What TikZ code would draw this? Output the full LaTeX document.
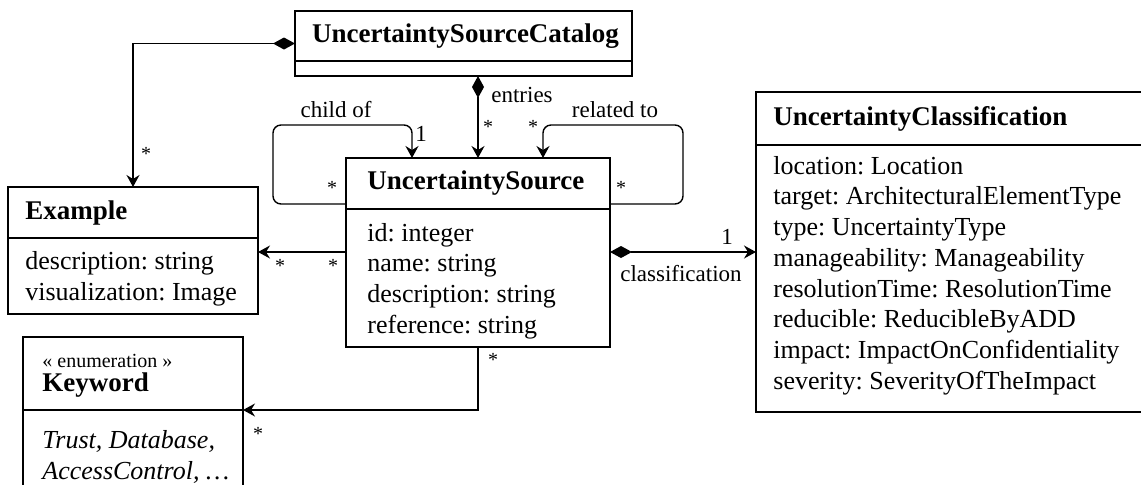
\documentclass[tikz,border=0pt]{standalone}
\usepackage{fontspec}
\setmainfont{Liberation Serif}
\usetikzlibrary{arrows.meta,calc}
\newcommand{\bodyfont}{\fontsize{13}{15.35}\selectfont\frenchspacing}
\newcommand{\titlefont}{\fontsize{13.5}{15.35}\selectfont\bfseries}
\begin{document}
\begin{tikzpicture}[x=0.5pt,y=-0.5pt,
	clsbox/.style={draw, line width=0.7pt, anchor=north west, inner sep=0pt, outer sep=0pt},
	txt/.style={anchor=west, inner sep=0pt, align=left, font=\bodyfont},
	ttl/.style={anchor=west, inner sep=0pt, font=\titlefont},
	assoc/.style={line width=0.7pt, -{Stealth[length=6pt,width=6.5pt,inset=2pt]}},
	comp/.style={line width=0.7pt, {Diamond[length=11pt,width=6pt]}-{Stealth[length=6pt,width=6.5pt,inset=2pt]}},
	lbl/.style={font=\fontsize{11.5}{13}\selectfont, inner sep=0pt},
	mult/.style={font=\fontsize{10}{12}\selectfont, inner sep=0pt}]
	\useasboundingbox (0,0) rectangle (1141,484);

	% classes
	\node[clsbox, minimum width=168.5pt, minimum height=25pt] (catHead) at (295,11) {};
	\node[clsbox, minimum width=168.5pt, minimum height=7.5pt] (catBody) at (catHead.south west) {};
	\node[ttl, anchor=center] (catTitle) at ($(catHead.center)+(2,0)$) {UncertaintySourceCatalog};

	\node[clsbox, minimum width=125pt, minimum height=25.5pt] (exHead) at (8,187) {};
	\node[clsbox, minimum width=125pt, minimum height=38pt] (exBody) at (exHead.south west) {};
	\node[ttl] (exTitle) at ($(exHead.west)+(17,0)$) {Example};
	\node[txt] (exAttr) at ($(exBody.west)+(17,3)$) {description: string\\visualization: Image};

	\node[clsbox, minimum width=132pt, minimum height=25.5pt] (usHead) at (346,158) {};
	\node[clsbox, minimum width=132pt, minimum height=69pt] (usBody) at (usHead.south west) {};
	\node[ttl] (usTitle) at ($(usHead.west)+(21,0)$) {UncertaintySource};
	\node[txt] (usAttr) at ($(usBody.west)+(21,3)$) {id: integer\\name: string\\description: string\\reference: string};

	\node[clsbox, minimum width=200pt, minimum height=26.5pt] (ucHead) at (756,92) {};
	\node[clsbox, minimum width=200pt, minimum height=133.5pt] (ucBody) at (ucHead.south west) {};
	\node[ttl] (ucTitle) at ($(ucHead.west)+(17,0)$) {UncertaintyClassification};
	\node[txt] (ucAttr) at ($(ucBody.west)+(17,-3)$) {location: Location\\target: ArchitecturalElementType\\type: UncertaintyType\\manageability: Manageability\\resolutionTime: ResolutionTime\\reducible: ReducibleByADD\\impact: ImpactOnConfidentiality\\severity: SeverityOfTheImpact};

	\node[clsbox, minimum width=110pt, minimum height=36.5pt] (kwHead) at (23,337) {};
	\node[clsbox, minimum width=110pt, minimum height=45pt] (kwBody) at (kwHead.south west) {};
	\node[anchor=west, inner sep=0pt, font=\fontsize{10}{12}\selectfont] (kwStereo) at ($(kwHead.west)+(19,-13)$) {« enumeration »};
	\node[ttl] (kwTitle) at ($(kwHead.west)+(19,12)$) {Keyword};
	\node[txt, font=\bodyfont\itshape] (kwAttr) at ($(kwBody.north west)+(19,47)$) {Trust, Database,\\AccessControl, …};

	% connectors
	\draw[comp] ($(catHead.north west)!0.5!(catBody.south west)$) -| (exHead.north);
	\draw[comp] (catBody.south -| usHead.north) -- (usHead.north);
	\draw[assoc, rounded corners=4pt] ($(usHead.south west)+(0,-5)$) -| ++(-73,-79) -| ($(usHead.north west)+(66,0)$);
	\draw[assoc, rounded corners=4pt] ($(usHead.south east)+(0,-5)$) -| ++(73,-79) -| ($(usHead.north east)+(-67,0)$);
	\draw[assoc] ($(usBody.north west)+(0,43)$) coordinate (exArr) -- (exArr -| exBody.east);
	\draw[comp] ($(usBody.north east)+(0,43)$) coordinate (ucArr) -- (ucArr -| ucBody.west);
	\draw[assoc] (usBody.south) |- (kwBody.north east);

	% labels
	\node[mult] (mEx) at (146,154) {*};
	\node[lbl] (lEntries) at (522,95) {entries};
	\node[mult] (mEntries) at (488,127) {*};
	\node[lbl] (lChild) at (336,110) {child of};
	\node[lbl] (mChildOne) at (421,134) {1};
	\node[mult] (mChild) at (332,188) {*};
	\node[lbl] (lRelated) at (615,110) {related to};
	\node[mult] (mRelA) at (533,127) {*};
	\node[mult] (mRelB) at (621,188) {*};
	\node[mult] (mExA) at (280,266) {*};
	\node[mult] (mExB) at (333,266) {*};
	\node[lbl] (mClassOne) at (727,237) {1};
	\node[lbl] (lClass) at (681,274) {classification};
	\node[mult] (mKwA) at (493,360) {*};
	\node[mult] (mKwB) at (258,434) {*};
\end{tikzpicture}
\end{document}
